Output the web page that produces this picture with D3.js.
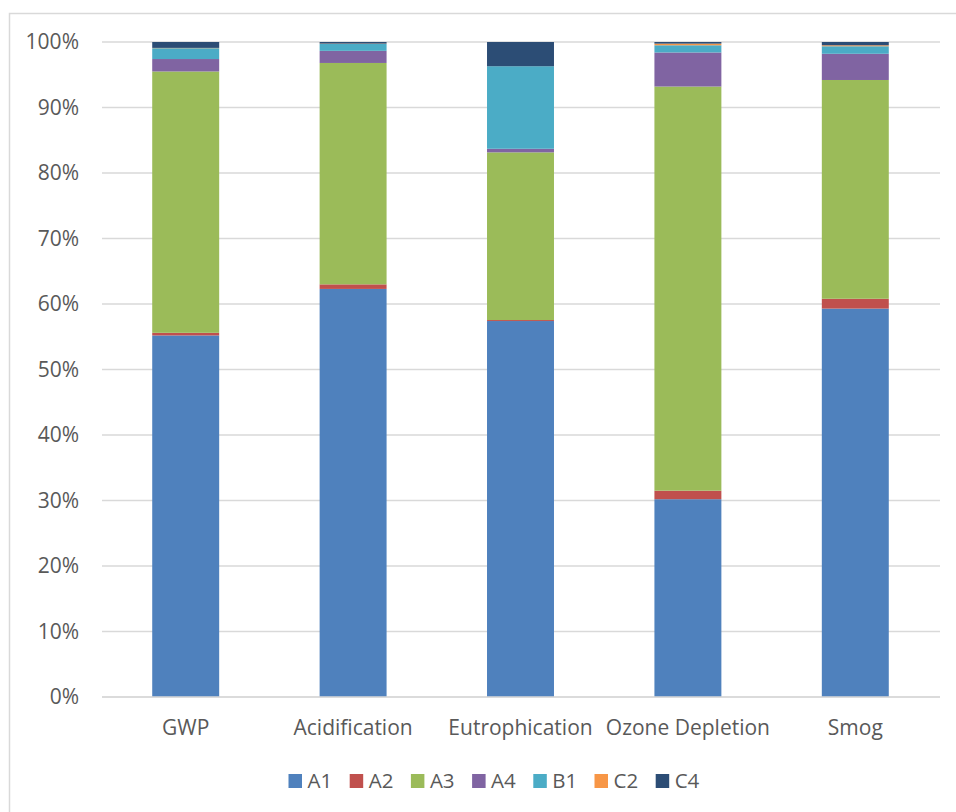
<!DOCTYPE html>
<html>
<head>
<meta charset="utf-8">
<script src="https://cdn.jsdelivr.net/npm/d3@7"></script>
<style>
  html, body { margin: 0; padding: 0; background: #fff; }
  svg { display: block; }
  text { font-family: "Open Sans", "Liberation Sans", sans-serif; fill: #595959; }
</style>
</head>
<body>
<div id="chart"></div>
<script>
const categories = ["GWP", "Acidification", "Eutrophication", "Ozone Depletion", "Smog"];
const seriesNames = ["A1", "A2", "A3", "A4", "B1", "C2", "C4"];
const A1 = [55.2, 62.3, 57.4, 30.2, 59.3];
const A2 = [0.4, 0.7, 0.15, 1.3, 1.5];
const A3 = [39.9, 33.8, 25.6, 61.7, 33.4];
const A4 = [1.9, 1.85, 0.55, 5.2, 4.0];
const B1 = [1.65, 1.05, 12.6, 1.1, 1.15];
const C2 = [0.05, 0.05, 0.0, 0.25, 0.15];
const C4 = [0.9, 0.25, 3.7, 0.25, 0.5];
const colors = ["#4F81BD", "#C0504D", "#9BBB59", "#8064A2", "#4BACC6", "#F79646", "#2C4D75"];
const yTicks = [0, 0.1, 0.2, 0.3, 0.4, 0.5, 0.6, 0.7, 0.8, 0.9, 1.0];

const seriesValues = [A1, A2, A3, A4, B1, C2, C4];
const rows = categories.map((c, i) => {
  const r = { category: c };
  seriesNames.forEach((s, j) => { r[s] = seriesValues[j][i]; });
  return r;
});

const W = 956, H = 812;
const svg = d3.select("#chart").append("svg").attr("width", W).attr("height", H);

// outer chart border
svg.append("rect").attr("x", 9.5).attr("y", 13.5).attr("width", 1000).attr("height", 1000)
  .attr("fill", "none").attr("stroke", "#d9d9d9").attr("stroke-width", 1.5);

const x = d3.scaleBand().domain(categories).range([102, 939]).paddingInner(0.6).paddingOuter(0.3);
const y = d3.scaleLinear().domain([0, 1]).range([697, 42]);

// gridlines
svg.append("g").selectAll("line").data(yTicks).join("line")
  .attr("x1", 102).attr("x2", 940)
  .attr("y1", d => y(d)).attr("y2", d => y(d))
  .attr("stroke", "#d9d9d9").attr("stroke-width", 1.5);

// y axis labels
const yAxis = d3.axisLeft(y).tickValues(yTicks).tickFormat(d3.format(".0%")).tickSize(0).tickPadding(0);
const gy = svg.append("g").attr("transform", "translate(79,0)").call(yAxis);
gy.select(".domain").remove();
gy.selectAll("text").attr("font-size", 21).attr("fill", "#595959")
  .style("font-family", "'Open Sans', 'Liberation Sans', sans-serif");

// stacked bars
const stack = d3.stack().keys(seriesNames).offset(d3.stackOffsetExpand);
const stacked = stack(rows);
svg.append("g").selectAll("g").data(stacked).join("g")
  .attr("fill", (d, i) => colors[i])
  .selectAll("rect").data(d => d).join("rect")
  .attr("x", d => x(d.data.category))
  .attr("width", x.bandwidth())
  .attr("y", d => y(d[1]))
  .attr("height", d => Math.max(0, y(d[0]) - y(d[1])));

// x axis
const xAxis = d3.axisBottom(x).tickSize(0).tickPadding(0);
const gx = svg.append("g").attr("transform", "translate(0,697)").call(xAxis);
gx.select(".domain").remove();
gx.selectAll("text").attr("font-size", 21).attr("fill", "#595959").attr("dy", null).attr("y", 38)
  .style("font-family", "'Open Sans', 'Liberation Sans', sans-serif");
svg.append("line").attr("x1", 102).attr("x2", 940).attr("y1", 697).attr("y2", 697)
  .attr("stroke", "#d9d9d9").attr("stroke-width", 1.5);

// legend
const legendX = d3.scalePoint().domain(seriesNames).range([288.5, 655.7]);
const lg = svg.append("g").selectAll("g").data(seriesNames).join("g")
  .attr("transform", d => `translate(${legendX(d)},774)`);
lg.append("rect").attr("width", 13.5).attr("height", 14).attr("fill", (d, i) => colors[i]);
lg.append("text").attr("x", 19).attr("y", 14).attr("font-size", 20.5).text(d => d);
</script>
</body>
</html>
